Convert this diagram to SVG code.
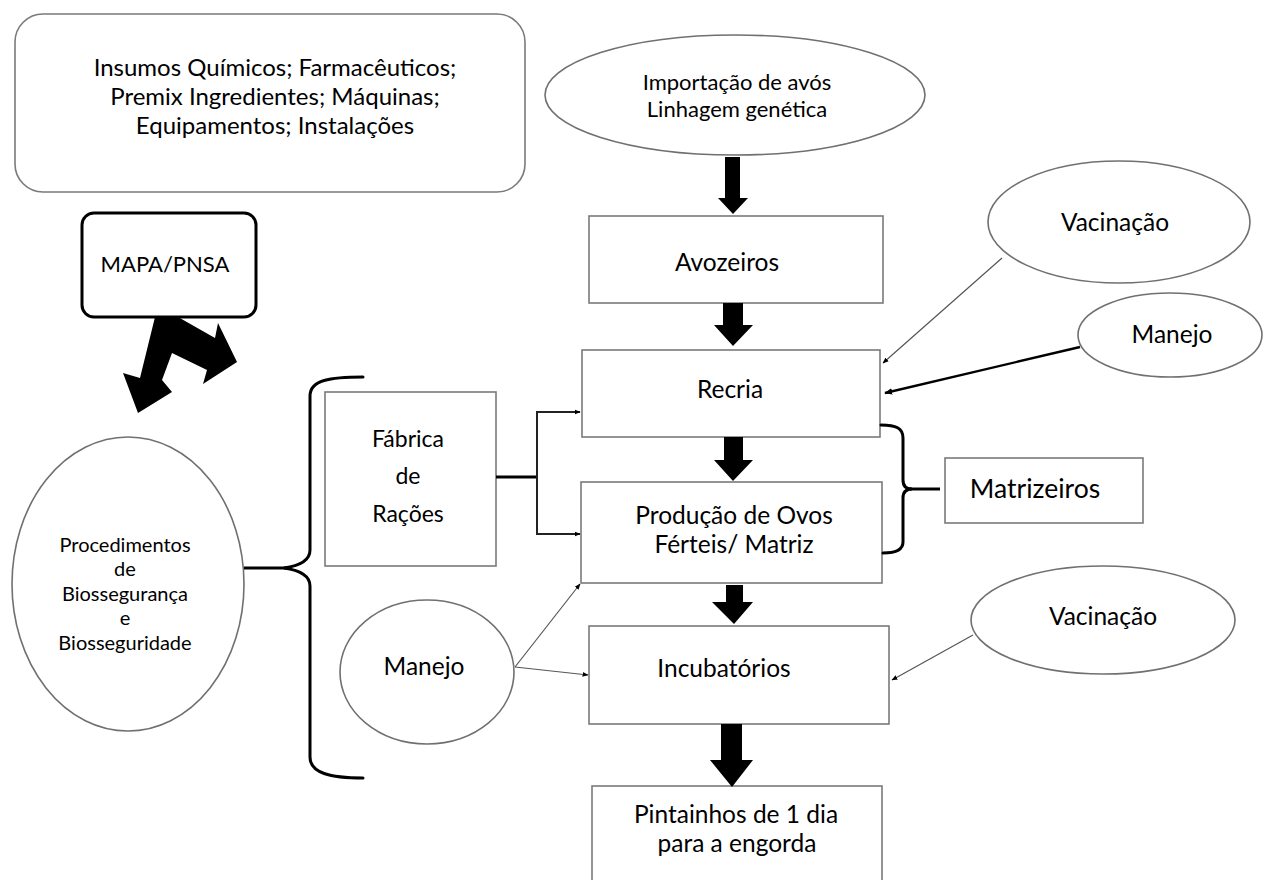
<svg xmlns="http://www.w3.org/2000/svg" width="1266" height="880" viewBox="0 0 1266 880">
  <defs>
    <marker id="tip" viewBox="0 0 10 10" refX="9" refY="5" markerWidth="6" markerHeight="6" orient="auto" markerUnits="userSpaceOnUse">
      <path d="M0,1 L10,5 L0,9 z" fill="#000"/>
    </marker>
    <marker id="tipBig" viewBox="0 0 10 10" refX="9" refY="5" markerWidth="8" markerHeight="8" orient="auto" markerUnits="userSpaceOnUse">
      <path d="M0,1 L10,5 L0,9 z" fill="#000"/>
    </marker>
  </defs>
  <style>
    text { font-family: Lato, "Open Sans", "Liberation Sans", sans-serif; fill: #000; text-anchor: middle; }
    .box { fill: #fff; stroke: #7a7a7a; stroke-width: 1.6; }
    .oval { fill: #fff; stroke: #707070; stroke-width: 1.6; }
    .brace { fill: none; stroke: #000; stroke-width: 3; stroke-linecap: round; }
    .thin { fill: none; stroke: #555; stroke-width: 1.2; }
    .feed { fill: none; stroke: #222; stroke-width: 2; }
    .bold { fill: #000; stroke: none; }
    .lbl { font-size: 24.5px; }
    .big { font-size: 26.5px; }
    .t24 { font-size: 24px; }
    .t23 { font-size: 23px; }
    .t22 { font-size: 22px; }
    .t20 { font-size: 20px; }
  </style>
  <rect width="1266" height="880" fill="#fff"/>

  <!-- inputs -->
  <g id="insumos">
    <rect class="box" x="15" y="14" width="510" height="178" rx="28"/>
    <text class="t24" x="275" y="76">Insumos Químicos; Farmacêuticos;</text>
    <text class="t24" x="275" y="105">Premix Ingredientes; Máquinas;</text>
    <text class="t24" x="275" y="134">Equipamentos; Instalações</text>
  </g>

  <g id="importacao">
    <ellipse class="oval" cx="735" cy="95" rx="190" ry="60"/>
    <text class="t22" x="737" y="90">Importação de avós</text>
    <text class="t22" x="737" y="117">Linhagem genética</text>
  </g>

  <g id="mapa">
    <rect x="82" y="213" width="174" height="104" rx="12" fill="#fff" stroke="#000" stroke-width="3"/>
    <text class="t22" x="165" y="272">MAPA/PNSA</text>
  </g>

  <g id="procedimentos">
    <ellipse class="oval" cx="128" cy="584" rx="116" ry="147"/>
    <text class="t20" x="125" y="552">Procedimentos</text>
    <text class="t20" x="125" y="576">de</text>
    <text class="t20" x="125" y="601">Biossegurança</text>
    <text class="t20" x="125" y="625">e</text>
    <text class="t20" x="125" y="650">Biosseguridade</text>
  </g>

  <g id="fabrica">
    <rect class="box" x="325" y="392" width="171" height="174"/>
    <text class="t23" x="408" y="447">Fábrica</text>
    <text class="t23" x="408" y="484">de</text>
    <text class="t23" x="408" y="522">Rações</text>
  </g>

  <g id="manejo-esq">
    <ellipse class="oval" cx="427" cy="672" rx="87" ry="72"/>
    <text class="lbl" x="424" y="675">Manejo</text>
  </g>

  <!-- production chain -->
  <g id="avozeiros">
    <rect class="box" x="589" y="216" width="294" height="87"/>
    <text class="lbl" x="727" y="271">Avozeiros</text>
  </g>

  <g id="recria">
    <rect class="box" x="582" y="350" width="298" height="87"/>
    <text class="lbl" x="730" y="398">Recria</text>
  </g>

  <g id="producao">
    <rect class="box" x="581" y="482" width="301" height="101"/>
    <text class="lbl" x="734" y="524">Produção de Ovos</text>
    <text class="lbl" x="734" y="553">Férteis/ Matriz</text>
  </g>

  <g id="incubatorios">
    <rect class="box" x="589" y="626" width="300" height="98"/>
    <text class="lbl" x="724" y="677">Incubatórios</text>
  </g>

  <g id="pintainhos">
    <rect class="box" x="592" y="786" width="290" height="100"/>
    <text class="lbl" x="736" y="823">Pintainhos de 1 dia</text>
    <text class="lbl" x="737" y="852">para a engorda</text>
  </g>

  <g id="matrizeiros">
    <rect class="box" x="945" y="458" width="198" height="65"/>
    <text class="big" x="1035" y="498">Matrizeiros</text>
  </g>

  <g id="vacinacao-1">
    <ellipse class="oval" cx="1119" cy="222" rx="131" ry="61"/>
    <text class="lbl" x="1115" y="231">Vacinação</text>
  </g>

  <g id="manejo-dir">
    <ellipse class="oval" cx="1170" cy="335" rx="92" ry="42"/>
    <text class="lbl" x="1172" y="343">Manejo</text>
  </g>

  <g id="vacinacao-2">
    <ellipse class="oval" cx="1103" cy="620" rx="132" ry="54"/>
    <text class="lbl" x="1103" y="625">Vacinação</text>
  </g>

  <g id="connectors">
    <!-- block arrows down the chain -->
    <path class="bold" d="M725,157 H740 V198 H748 L733,214 L718,198 H725 Z"/>
    <path class="bold" d="M723,303 H743 V325 H753 L733,346 L714,325 H723 Z"/>
    <path class="bold" d="M724,437 H743 V460 H753 L733,481 L714,460 H724 Z"/>
    <path class="bold" d="M726,585 H743 V602 H753 L734,624 L712,602 H726 Z"/>
    <path class="bold" d="M721,724 H742 V760 H753 L732,787 L710,760 H721 Z"/>

    <!-- MAPA/PNSA split arrow -->
    <path class="bold" d="M155,317 L140,378 L123,373 L138,413 L172,392 L162,380 L172,353 L207,370 L203,384 L237,362 L218,323 L215,338 L178,317 Z"/>

    <!-- left brace -->
    <path class="brace" d="M363,377 C330,377 310,380 310,396 V550 C310,561 298,566 284,568 C298,570 310,575 310,586 V757 C310,773 330,778 363,778"/>
    <line x1="244" y1="568" x2="286" y2="568" stroke="#000" stroke-width="3"/>

    <!-- right brace (Matrizeiros) -->
    <path class="brace" d="M881,425 C896,425 903,428 903,438 V480 C903,486 906,489 912,489 C906,489 903,492 903,498 V542 C903,550 896,553 883,553"/>
    <line x1="910" y1="489" x2="940" y2="489" stroke="#000" stroke-width="3"/>

    <!-- feed mill to rearing and laying -->
    <path d="M496,477 H537" stroke="#000" stroke-width="3" fill="none"/>
    <path class="feed" d="M537,412 V534"/>
    <path class="feed" d="M536,412 H580" marker-end="url(#tip)"/>
    <path class="feed" d="M536,534 H580" marker-end="url(#tip)"/>

    <!-- side inputs -->
    <line class="thin" x1="1002" y1="258" x2="883" y2="363" marker-end="url(#tip)"/>
    <line x1="1080" y1="347" x2="885" y2="393" stroke="#000" stroke-width="2.4" marker-end="url(#tipBig)"/>
    <line class="thin" x1="973" y1="635" x2="892" y2="680" marker-end="url(#tip)"/>
    <line class="thin" x1="515" y1="667" x2="580" y2="584" marker-end="url(#tip)"/>
    <line class="thin" x1="515" y1="667" x2="588" y2="675" marker-end="url(#tip)"/>
  </g>
</svg>
